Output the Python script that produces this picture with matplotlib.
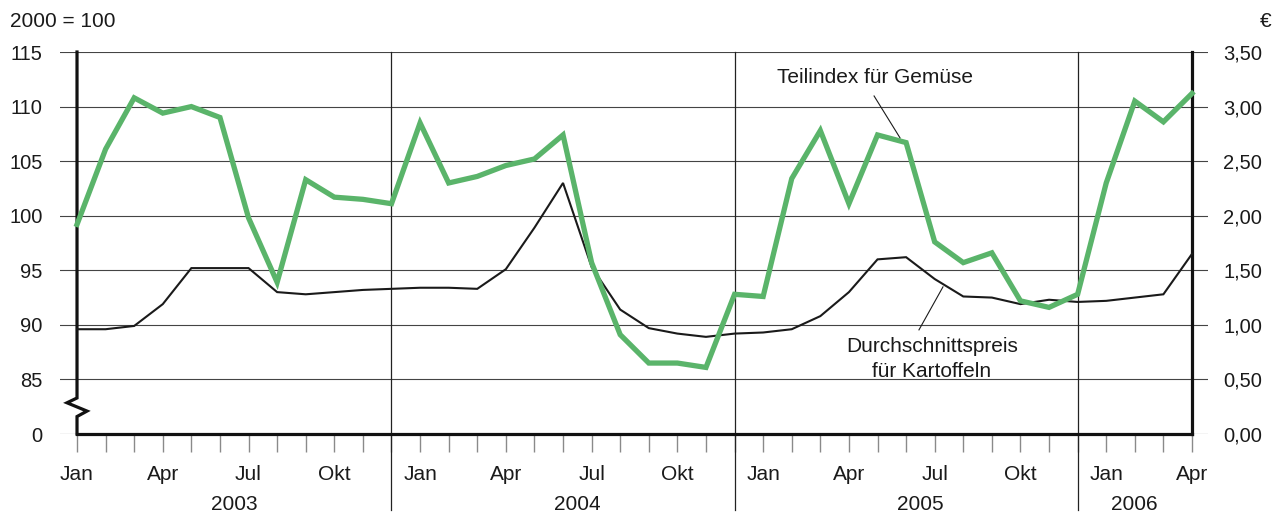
import matplotlib
matplotlib.use("Agg")
import matplotlib.pyplot as plt
from matplotlib.transforms import blended_transform_factory

# ---------------- data ----------------
month_labels = (['Jan', '', '', 'Apr', '', '', 'Jul', '', '', 'Okt', '', ''] * 3
                + ['Jan', '', '', 'Apr'])
years = ['2003', '2004', '2005', '2006']
year_centers = [5.5, 17.5, 29.5, 37.0]
year_separators = [11, 23, 35]

# Teilindex für Gemüse (2000 = 100), left axis
gemuese = [99.2, 106.1, 110.8, 109.4, 110.0, 109.0, 99.8, 93.9, 103.3, 101.7, 101.5, 101.1,
           108.5, 103.0, 103.6, 104.6, 105.2, 107.4, 95.7, 89.1, 86.5, 86.5, 86.1, 92.8,
           92.6, 103.4, 107.8, 101.1, 107.4, 106.7, 97.6, 95.7, 96.6, 92.2, 91.6, 92.8,
           103.0, 110.5, 108.6, 111.2]

# Durchschnittspreis für Kartoffeln (EUR), right axis
kartoffeln = [0.96, 0.96, 0.99, 1.19, 1.52, 1.52, 1.52, 1.30, 1.28, 1.30, 1.32, 1.33,
              1.34, 1.34, 1.33, 1.51, 1.89, 2.30, 1.53, 1.14, 0.97, 0.92, 0.89, 0.92,
              0.93, 0.96, 1.08, 1.30, 1.60, 1.62, 1.42, 1.26, 1.25, 1.19, 1.23, 1.21,
              1.22, 1.25, 1.28, 1.65]

left_ticks = [80, 85, 90, 95, 100, 105, 110, 115]
left_labels = ['0', '85', '90', '95', '100', '105', '110', '115']
right_ticks = [0, 0.5, 1.0, 1.5, 2.0, 2.5, 3.0, 3.5]
right_labels = ['0,00', '0,50', '1,00', '1,50', '2,00', '2,50', '3,00', '3,50']

# ---------------- style ----------------
plt.rcParams['font.family'] = ['Liberation Sans', 'DejaVu Sans']
FS = 15
FS_NUM = 14.5
GREEN = '#5ab46a'
GRID = '#444444'
TXT = '#1a1a1a'

W, H = 1277, 516
fig = plt.figure(figsize=(W / 100, H / 100), dpi=100)
pos = [60 / W, (H - 434) / H, 1148 / W, 382 / H]
ax = fig.add_axes(pos)
ax2 = ax.twinx()
ax.set_position(pos)
ax2.set_position(pos)

x = list(range(len(gemuese)))
ax.set_xlim(-0.595, 39.56)
ax.set_ylim(80, 115)
ax2.set_ylim(0, 3.5)

for a in (ax, ax2):
    for s in a.spines.values():
        s.set_visible(False)
ax2.patch.set_visible(False)

# grid
for yv in left_ticks:
    ax.axhline(yv, color=GRID, lw=0.8, zorder=1)

# y ticks
ax.set_yticks(left_ticks)
ax.set_yticklabels(left_labels)
ax.tick_params(axis='y', length=0, pad=12.5, labelsize=FS_NUM, colors=TXT)
ax2.set_yticks(right_ticks)
ax2.set_yticklabels(right_labels)
ax2.tick_params(axis='y', length=0, pad=11, labelsize=FS_NUM, colors=TXT)

# x ticks
ax.set_xticks(x)
ax.set_xticklabels([''] * len(x))
ax.tick_params(axis='x', direction='out', length=13, width=1, color='#8a8a8a')

trans = blended_transform_factory(ax.transData, ax.transAxes)
for i, lab in enumerate(month_labels):
    if lab:
        ax.text(i, -0.1204, lab, transform=trans, ha='center', va='baseline',
                fontsize=FS, color=TXT)
for c, yr in zip(year_centers, years):
    ax.text(c, -0.199, yr, transform=trans, ha='center', va='baseline',
            fontsize=FS, color=TXT)

# year separators
for xs in year_separators:
    ax.axvline(xs, ymin=-0.199, ymax=1, color='#222222', lw=0.9, clip_on=False, zorder=2)

# axis frame (thick)
ax.plot([0, 0, -0.35, 0.35, 0, 0], [115, 83.3, 82.86, 82.1, 81.6, 80],
        color='#111111', lw=2.3, clip_on=False, zorder=5, solid_joinstyle='miter')
ax.plot([0, 39], [80, 80], color='#111111', lw=2.3, clip_on=False, zorder=5,
        solid_capstyle='projecting')
ax.plot([39, 39], [80, 115], color='#111111', lw=2.3, clip_on=False, zorder=5)

# series
ax2.plot(x, kartoffeln, color=TXT, lw=1.5, zorder=3, solid_joinstyle='miter')
ax2.plot(x, gemuese, color=GREEN, lw=3.8, zorder=4, transform=ax.transData,
         solid_joinstyle='miter')

# annotations
ax.text(24.48, 112.16, 'Teilindex für Gemüse', ha='left', va='baseline',
        fontsize=FS, color=TXT)
ax.plot([27.88, 28.79], [110.97, 107.12], color=TXT, lw=0.8, zorder=4)
ax.text(29.9, 87.53, 'Durchschnittspreis', ha='center', va='baseline',
        fontsize=FS, color=TXT)
ax.text(29.9, 85.24, 'für Kartoffeln', ha='center', va='baseline',
        fontsize=FS, color=TXT)
ax.plot([29.45, 30.29], [89.54, 93.48], color=TXT, lw=0.8, zorder=4)

# header texts
fig.text(10 / W, (H - 27) / H, '2000 = 100', ha='left', va='baseline',
         fontsize=FS, color=TXT)
fig.text(1271 / W, (H - 27) / H, '€', ha='right', va='baseline',
         fontsize=FS, color=TXT)

fig.savefig('out.png', dpi=100)
